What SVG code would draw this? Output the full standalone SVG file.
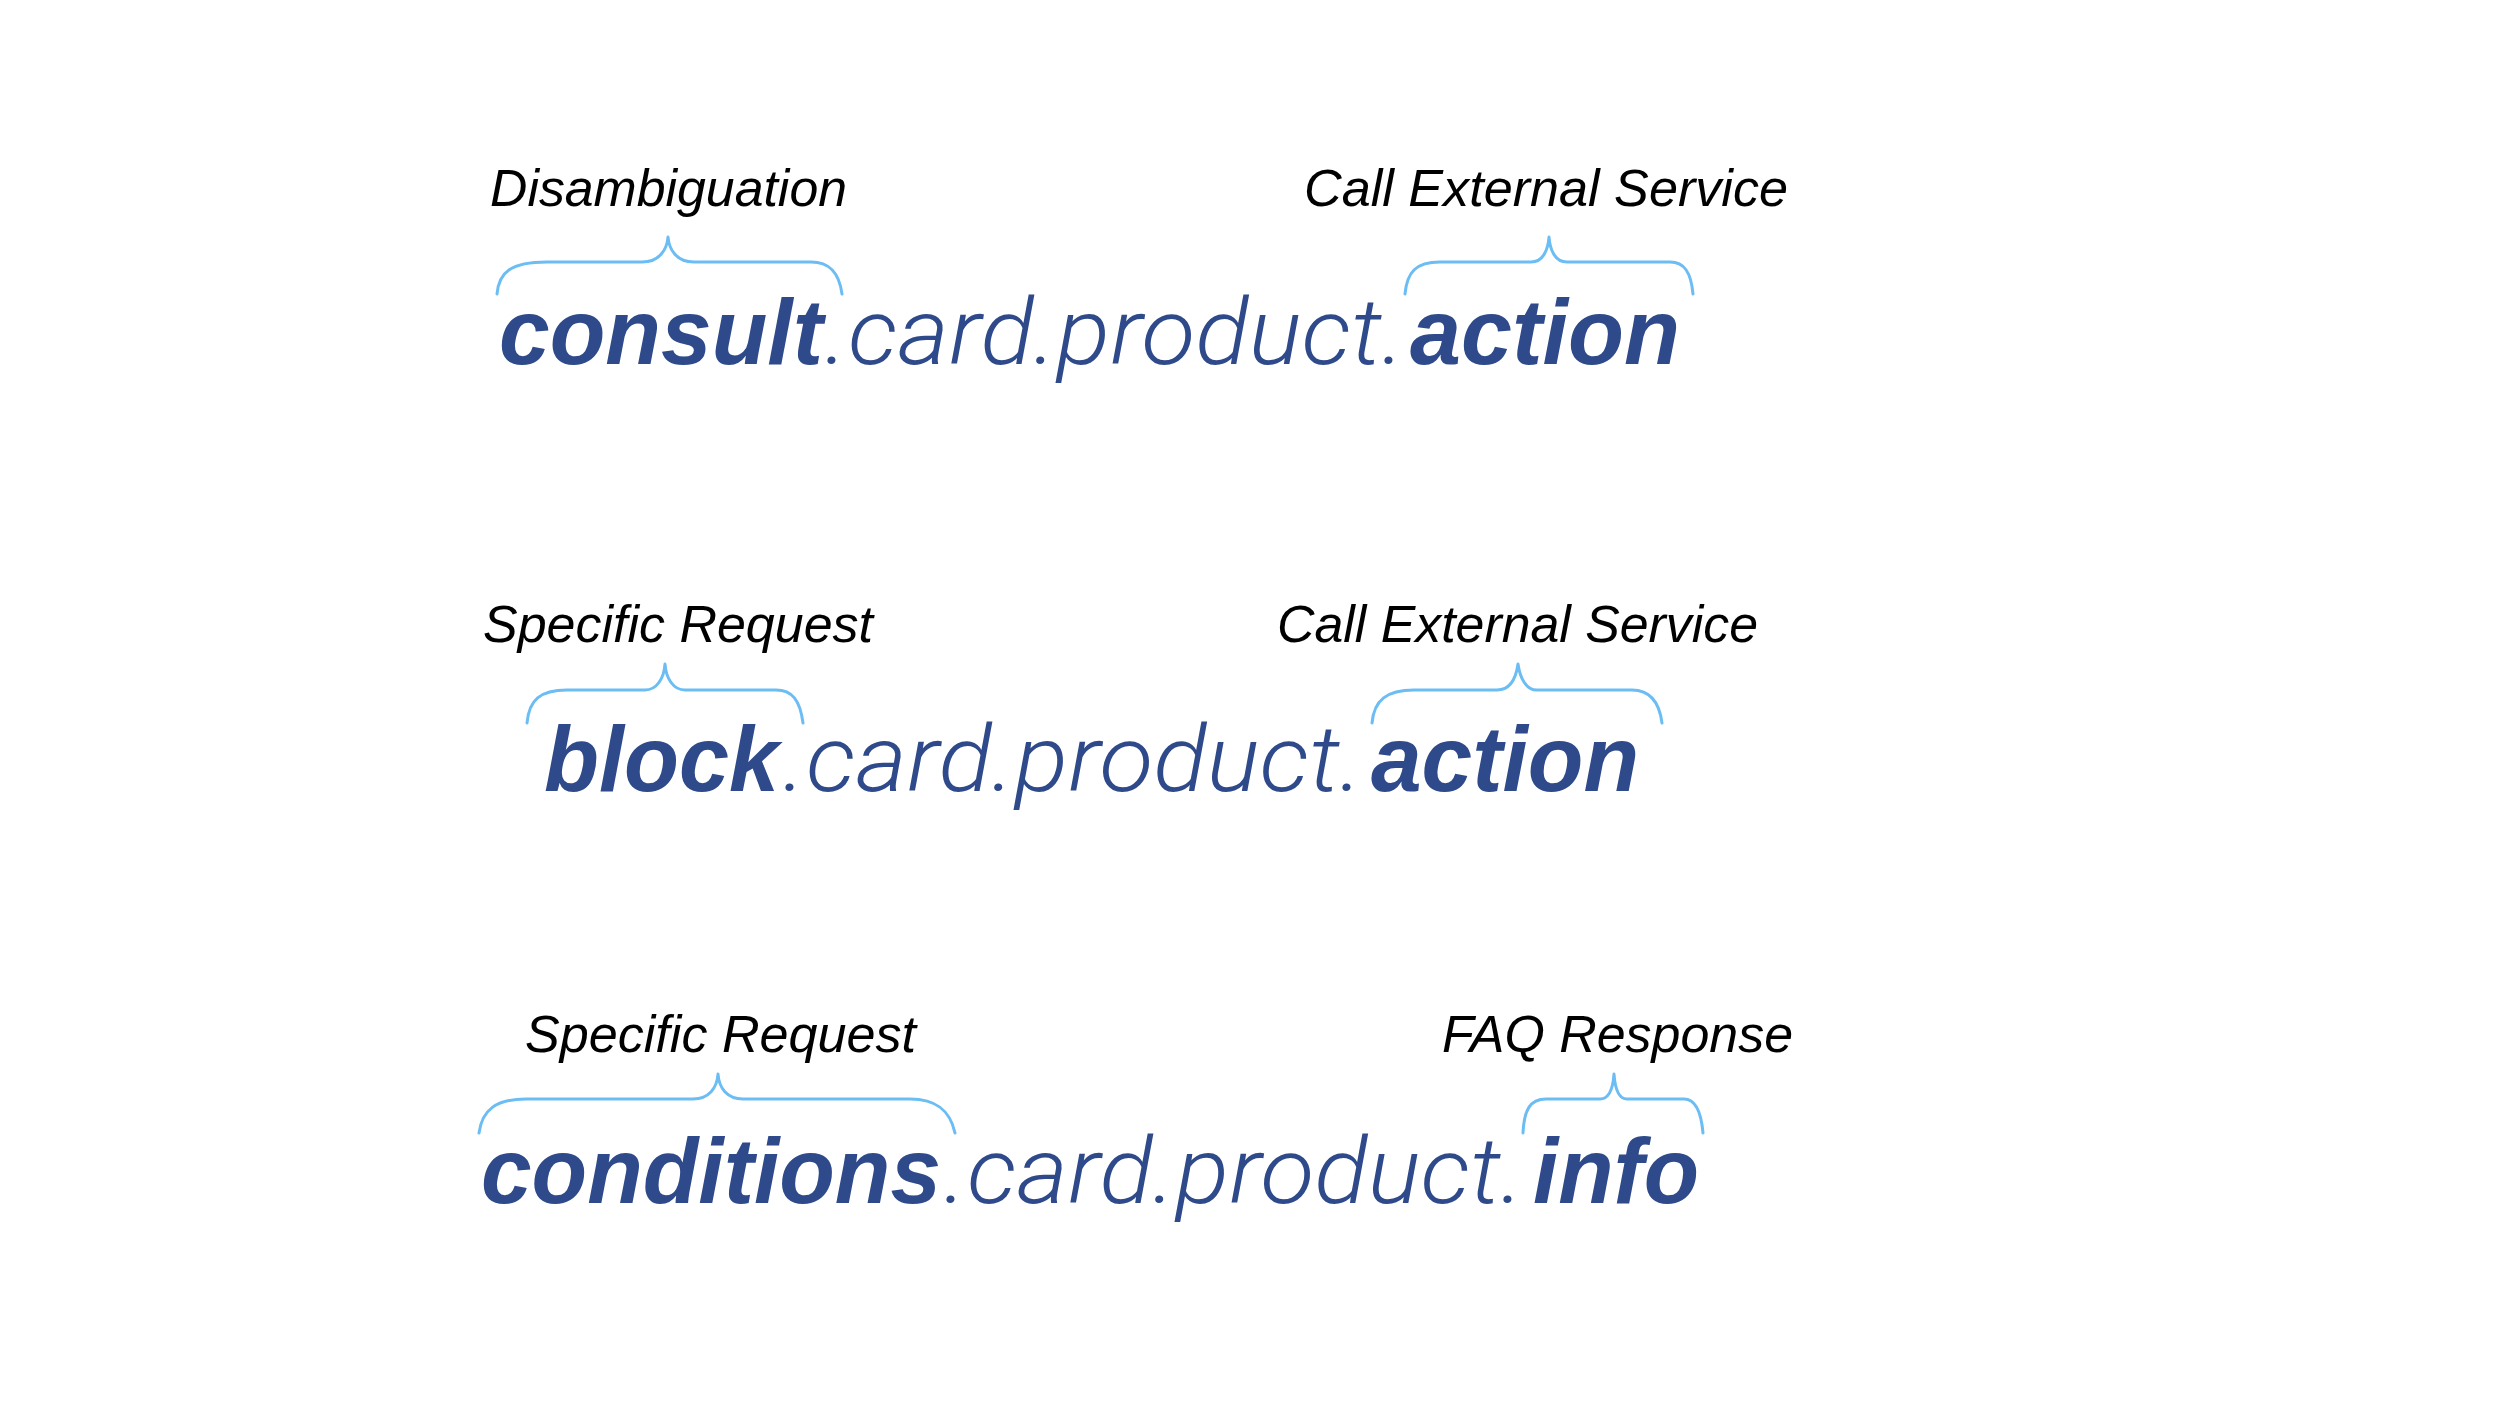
<svg xmlns="http://www.w3.org/2000/svg" width="2500" height="1403" viewBox="0 0 2500 1403">
<style>
.lbl{font-family:"Liberation Sans",Arial,sans-serif;font-style:italic;font-size:52px;fill:#000}
.b{font-family:"Liberation Sans",Arial,sans-serif;font-style:italic;font-weight:bold;font-size:92px;fill:#2F4A8A}
.m{font-family:Roboto,"Liberation Sans",sans-serif;font-style:italic;font-weight:300;font-size:92px;fill:#2F4A8A}
.br{fill:none;stroke:#6BBDF4;stroke-width:3;stroke-linecap:round;stroke-linejoin:round}
</style>
<rect width="2500" height="1403" fill="#fff"/>
<g id="row1">
<g id="label-disambiguation"><text class="lbl" x="490" y="206" textLength="357" lengthAdjust="spacingAndGlyphs">Disambiguation</text></g>
<g id="label-call1"><text class="lbl" x="1304" y="206" textLength="484" lengthAdjust="spacingAndGlyphs">Call External Service</text></g>
<g id="expr1">
<text class="b" x="499" y="364" textLength="324" lengthAdjust="spacingAndGlyphs">consult</text>
<text class="m" x="825" y="364" textLength="580" lengthAdjust="spacingAndGlyphs">.card.product.</text>
<text class="b" x="1410" y="364" textLength="270" lengthAdjust="spacingAndGlyphs">action</text>
</g>
</g>
<g id="row2">
<g id="label-specific2"><text class="lbl" x="483" y="642" textLength="390" lengthAdjust="spacingAndGlyphs">Specific Request</text></g>
<g id="label-call2"><text class="lbl" x="1277" y="642" textLength="481" lengthAdjust="spacingAndGlyphs">Call External Service</text></g>
<g id="expr2">
<text class="b" x="544" y="791" textLength="235" lengthAdjust="spacingAndGlyphs">block</text>
<text class="m" x="783" y="791" textLength="580" lengthAdjust="spacingAndGlyphs">.card.product.</text>
<text class="b" x="1371" y="791" textLength="268" lengthAdjust="spacingAndGlyphs">action</text>
</g>
</g>
<g id="row3">
<g id="label-specific3"><text class="lbl" x="525" y="1052" textLength="391" lengthAdjust="spacingAndGlyphs">Specific Request</text></g>
<g id="label-faq"><text class="lbl" x="1442" y="1052" textLength="351" lengthAdjust="spacingAndGlyphs">FAQ Response</text></g>
<g id="expr3">
<text class="b" x="481" y="1203" textLength="460" lengthAdjust="spacingAndGlyphs">conditions</text>
<text class="m" x="944" y="1203" textLength="580" lengthAdjust="spacingAndGlyphs">.card.product.</text>
<text class="b" x="1533" y="1203" textLength="166" lengthAdjust="spacingAndGlyphs">info</text>
</g>
</g>
<g id="connectors">
<path class="br" d="M497,294 C499,272 511,262 547,262 L642,262 C659,262 667,250 668,237 C669,250 677,262 694,262 L811,262 C829,262 839,272 842,294"/>
<path class="br" d="M1405,294 C1407,272 1416,262 1440,262 L1531,262 C1543,262 1548,250 1549,237 C1550,250 1555,262 1567,262 L1670,262 C1684,262 1691,272 1693,294"/>
<path class="br" d="M527,723 C529,700 540,690 567,690 L645,690 C657,690 664,678 665,664 C666,678 673,690 685,690 L776,690 C792,690 800,700 803,723"/>
<path class="br" d="M1372,723 C1374,700 1387,690 1414,690 L1497,690 C1510,690 1516,678 1518,664 C1520,678 1526,690 1537,690 L1632,690 C1648,690 1659,700 1662,723"/>
<path class="br" d="M479,1133 C482,1110 496,1099 526,1099 L693,1099 C709,1099 717,1088 718,1074 C719,1088 727,1099 743,1099 L910,1099 C936,1099 950,1110 955,1133"/>
<path class="br" d="M1523,1133 C1524,1110 1530,1099 1546,1099 L1600,1099 C1609,1099 1613,1088 1614,1074 C1615,1088 1619,1099 1627,1099 L1684,1099 C1695,1099 1701,1110 1703,1133"/>
</g>
</svg>
